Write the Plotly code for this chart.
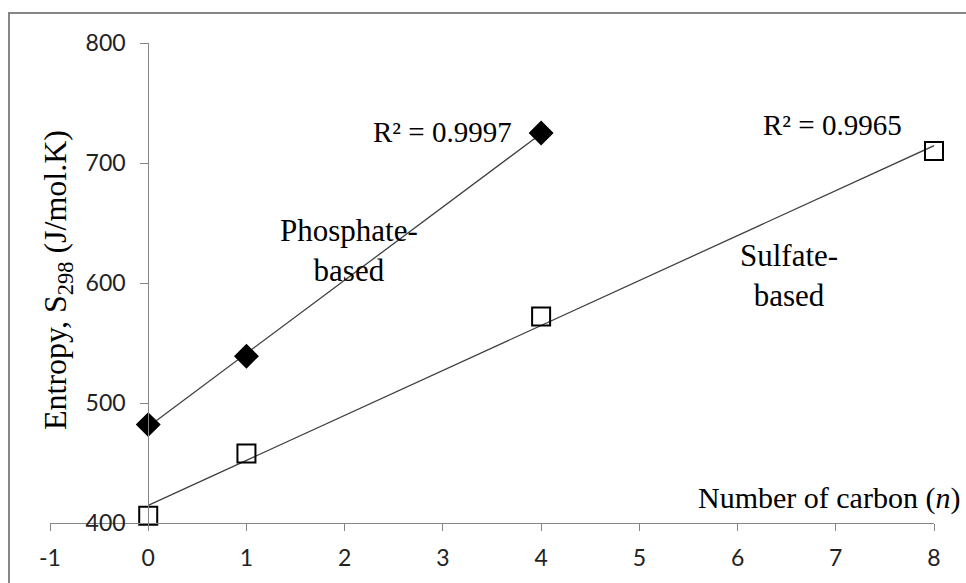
import numpy as np
import plotly.graph_objects as go

# Data
phos_n = [0, 1, 4]
phos_s = [482, 539, 725]
sulf_n = [0, 1, 4, 8]
sulf_s = [406, 458, 572, 710]
x_ticks = [-1, 0, 1, 2, 3, 4, 5, 6, 7, 8]
x_tick_text = ["-1", "0", "1", "2", "3", "4", "5", "6", "7", "8"]
y_ticks = [400, 500, 600, 700, 800]
r2_labels = ["R² = 0.9997", "R² = 0.9965"]

SERIF = "Liberation Serif, Times New Roman, serif"
SANS = "Lato, Liberation Sans, sans-serif"

def fit(x, y):
    m, b = np.polyfit(x, y, 1)
    xs = np.array([min(x), max(x)], dtype=float)
    return xs, m * xs + b

fig = go.Figure()
for xs, ys, sym, size, fill in [
    (phos_n, phos_s, "diamond", 17, "black"),
    (sulf_n, sulf_s, "square-open", 18, "black"),
]:
    fx, fy = fit(xs, ys)
    fig.add_trace(go.Scatter(x=fx, y=fy, mode="lines",
                             line=dict(color="#404040", width=1.3),
                             showlegend=False, hoverinfo="skip", cliponaxis=False))
    fig.add_trace(go.Scatter(x=xs, y=ys, mode="markers",
                             marker=dict(symbol=sym, size=size, color=fill,
                                         line=dict(color="black", width=2)),
                             showlegend=False, cliponaxis=False))

W, H = 966, 583
L, R, T, B = 50, 32, 43, 60
fig.update_layout(
    width=W, height=H,
    margin=dict(l=L, r=R, t=T, b=B),
    paper_bgcolor="white", plot_bgcolor="white",
    xaxis=dict(range=[-1, 8], tickvals=x_ticks, ticktext=x_tick_text,
               showgrid=False, zeroline=False,
               showline=True, linecolor="#868686", linewidth=1,
               ticks="outside", ticklen=7, tickcolor="#868686",
               tickfont=dict(family=SANS, size=23, color="#222"),
               ticklabelstandoff=7, domain=[0, 1]),
    yaxis=dict(range=[400, 800], tickvals=y_ticks, showgrid=False, zeroline=False,
               showline=True, linecolor="#868686", linewidth=1,
               ticks="outside", ticklen=8, tickcolor="#868686",
               tickfont=dict(family=SANS, size=23, color="#222"),
               anchor="free", position=1/9, ticklabelstandoff=10),
)

ann = [
    dict(x=3.72, y=726, xref="x", yref="y", text=r2_labels[0], xanchor="right",
         yanchor="middle", font=dict(family=SERIF, size=29, color="black"), showarrow=False),
    dict(x=7.69, y=732, xref="x", yref="y", text=r2_labels[1], xanchor="right",
         yanchor="middle", font=dict(family=SERIF, size=29, color="black"), showarrow=False),
    dict(x=2.04, y=627, xref="x", yref="y", text="Phosphate-<br>based", xanchor="center",
         yanchor="middle", font=dict(family=SERIF, size=31, color="black"), showarrow=False),
    dict(x=6.52, y=606, xref="x", yref="y", text="Sulfate-<br>based", xanchor="center",
         yanchor="middle", font=dict(family=SERIF, size=31, color="black"), showarrow=False),
    dict(x=(962 - L) / (W - L - R), y=(523 - 498) / (H - T - B), xref="paper", yref="paper",
         text="Number of carbon (<i>n</i>)", xanchor="right", yanchor="middle",
         font=dict(family=SERIF, size=30, color="black"), showarrow=False),
    dict(x=(57 - L) / (W - L - R), y=(523 - 280) / (H - T - B), xref="paper", yref="paper",
         text="Entropy, S<sub>298</sub> (J/mol.K)", textangle=-90, xanchor="center", yanchor="middle",
         font=dict(family=SERIF, size=32, color="black"), showarrow=False),
]
fig.update_layout(annotations=ann)

# outer chart border
fig.add_shape(type="rect", xref="paper", yref="paper",
              x0=(9 - L) / (W - L - R), x1=(975 - L) / (W - L - R),
              y0=(523 - 590) / (H - T - B), y1=(523 - 13) / (H - T - B),
              line=dict(color="#868686", width=2), fillcolor="rgba(0,0,0,0)", layer="below")

fig.write_html("out.html")
